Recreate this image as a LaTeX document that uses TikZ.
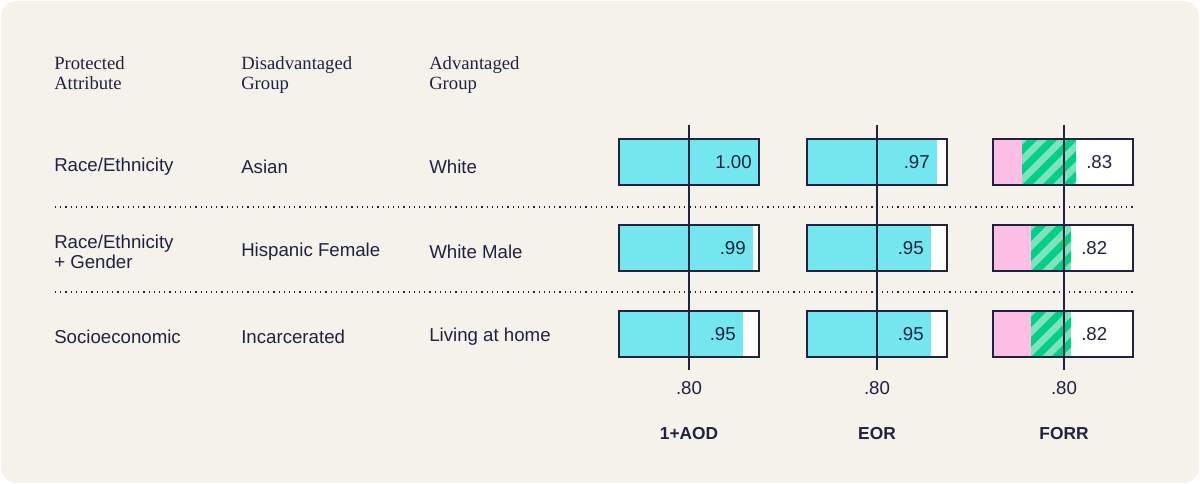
\documentclass[tikz,border=0pt]{standalone}
\usepackage{fontspec}
\setmainfont{Liberation Serif}
\setsansfont{Liberation Sans}
\definecolor{bg}{HTML}{F5F2EC}
\definecolor{cy}{HTML}{74E7EE}
\definecolor{pk}{HTML}{FDBFE6}
\definecolor{gr}{HTML}{00D084}
\definecolor{lg}{HTML}{7FE2BE}
\definecolor{ink}{HTML}{1F2340}
\tikzset{hdr/.style={anchor=north west,align=left,font=\fontsize{14}{15}\selectfont,text=ink,inner sep=0pt},
 cell/.style={anchor=west,align=left,font=\sffamily\fontsize{14}{15}\selectfont,text=ink,inner sep=0pt},
 val/.style={anchor=east,font=\sffamily\fontsize{14}{15}\selectfont,text=ink,inner sep=0pt},
 tick/.style={anchor=center,font=\sffamily\fontsize{14}{15}\selectfont,text=ink},
 ttl/.style={anchor=center,font=\sffamily\bfseries\fontsize{13}{15}\selectfont,text=ink},
 frame/.style={draw=ink,line width=1.8pt},
 dots/.style={draw=ink,line width=0.9pt,dash pattern=on 0.9pt off 3pt}}
\begin{document}
\begin{tikzpicture}[x=0.75pt,y=-0.75pt]
\useasboundingbox (0,0) rectangle (1200,484);
\fill[white] (0,0) rectangle (1200,484);
\fill[bg,rounded corners=12pt] (1,1) rectangle (1199,483);
\node[hdr] (h1) at (54,56) {Protected\\Attribute};
\node[hdr] (h2) at (241,56) {Disadvantaged\\Group};
\node[hdr] (h3) at (429,56) {Advantaged\\Group};
\node[cell] (a1) at (54,167) {Race/Ethnicity};
\node[cell] (b1) at (241,167) {Asian};
\node[cell] (c1) at (429,167) {White};
\node[cell] (a2) at (54,252) {Race/Ethnicity\\+ Gender};
\node[cell] (b2) at (241,252) {Hispanic Female};
\node[cell] (c2) at (429,252) {White Male};
\node[cell] (a3) at (54,337) {Socioeconomic};
\node[cell] (b3) at (241,337) {Incarcerated};
\node[cell] (c3) at (429,337) {Living at home};
\coordinate (d1a) at (55,207); \coordinate (d1b) at (1135,207);
\coordinate (d2a) at (55,292); \coordinate (d2b) at (1135,292);
\draw[dots] (d1a) -- (d1b);
\draw[dots] (d2a) -- (d2b);
% bars: x0 x1 fill
\foreach \x/\f/\y/\v in {619/759/139/1.00, 619/753/225/.99, 619/743/311/.95,
   807/937/139/.97, 807/931/225/.95, 807/931/311/.95}{
  \pgfmathsetmacro{\xe}{\x+140}
  \fill[white] (\x,\y) rectangle (\xe,\y+46);
  \fill[cy] (\x,\y) rectangle (\f,\y+46);
  \draw[frame] (\x,\y) rectangle (\xe,\y+46);
  \node[val] at (\f-7,\y+23) {\v};
}
\foreach \p/\g/\y/\v in {1022/1076/139/.83, 1031/1071/225/.82, 1031/1071/311/.82}{
  \fill[white] (993,\y) rectangle (1133,\y+46);
  \fill[pk] (993,\y) rectangle (\p,\y+46);
  \begin{scope}
   \clip (\p,\y) rectangle (\g,\y+46);
   \fill[lg] (\p,\y) rectangle (\g,\y+46);
   \foreach \k in {-60,-40,...,80}{
     \fill[gr] (\p+\k,\y+46) -- (\p+\k+10,\y+46) -- (\p+\k+56,\y) -- (\p+\k+46,\y) -- cycle;}
  \end{scope}
  \draw[frame] (993,\y) rectangle (1133,\y+46);
  \node[val,anchor=west] at (\g+10,\y+23) {\v};
}
\foreach \x/\n/\t in {689/AOD/1+AOD, 877/EOR/EOR, 1064/FORR/FORR}{
  \coordinate (t\n) at (\x,125);
  \coordinate (b\n) at (\x,370);
  \draw[ink,line width=1.5pt] (t\n) -- (b\n);
  \node[tick] (k\n) at (\x,388) {.80};
  \node[ttl] (l\n) at (\x,434) {\t};
}
\end{tikzpicture}
\end{document}
